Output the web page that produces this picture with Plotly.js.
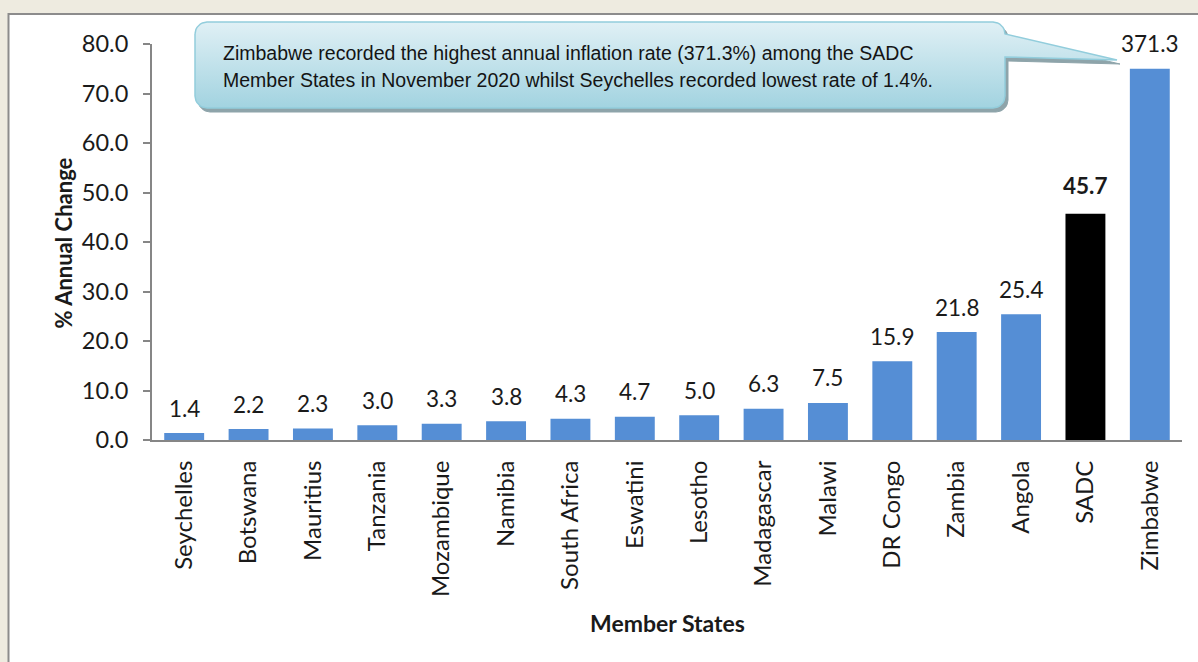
<!DOCTYPE html>
<html>
<head>
<meta charset="utf-8">
<script src="https://cdn.plot.ly/plotly-3.0.1.min.js"></script>
<style>
  html, body { margin: 0; padding: 0; background: #EEEBE0; }
  #chart { width: 1198px; height: 662px; }
</style>
</head>
<body>
<div id="chart"></div>
<script>
// ---- data ----
const categories = ['Seychelles','Botswana','Mauritius','Tanzania','Mozambique','Namibia',
  'South Africa','Eswatini','Lesotho','Madagascar','Malawi','DR Congo','Zambia','Angola','SADC','Zimbabwe'];
const values = [1.4, 2.2, 2.3, 3.0, 3.3, 3.8, 4.3, 4.7, 5.0, 6.3, 7.5, 15.9, 21.8, 25.4, 45.7, 371.3];
const highlightCategory = 'SADC';
const axisCap = 75;              // bars above this are drawn broken at the cap
const yTickValues = [0, 10, 20, 30, 40, 50, 60, 70, 80];
const xTitle = 'Member States';
const yTitle = '% Annual Change';
const calloutLines = [
  'Zimbabwe recorded the highest annual inflation rate (371.3%) among the SADC',
  'Member States in November 2020 whilst Seychelles recorded lowest rate of 1.4%.'
];

// ---- helpers ----
const W = 1198, H = 662;
const px = x => x / W;
const py = y => 1 - y / H;

const plotted = values.map(v => Math.min(v, axisCap));
const barColors = categories.map(c => c === highlightCategory ? '#000000' : '#558ED5');

// rounded callout outline (pixel coords)
function calloutPath(dx, dy) {
  const L = 195 + dx, R = 1005 + dx, T = 22 + dy, B = 108 + dy, r = 12;
  const xs = [], ys = [];
  function arc(cx, cy, a0, a1) {
    const n = 8;
    for (let i = 0; i <= n; i++) {
      const a = a0 + (a1 - a0) * i / n;
      xs.push(cx + r * Math.cos(a)); ys.push(cy + r * Math.sin(a));
    }
  }
  arc(L + r, T + r, Math.PI, 1.5 * Math.PI);      // top-left
  arc(R - r, T + r, 1.5 * Math.PI, 2 * Math.PI);  // top-right
  xs.push(1117 + dx); ys.push(60 + dy);            // tail tip
  xs.push(R); ys.push(57 + dy);
  arc(R - r, B - r, 0, 0.5 * Math.PI);             // bottom-right
  arc(L + r, B - r, 0.5 * Math.PI, Math.PI);       // bottom-left
  xs.push(xs[0]); ys.push(ys[0]);
  return {xs, ys};
}

const shadow = calloutPath(3, 4);
const box = calloutPath(0, 0);

const traces = [
  {
    type: 'bar',
    x: categories,
    y: plotted,
    marker: { color: barColors },
    width: 0.62,
    hoverinfo: 'skip',
    xaxis: 'x', yaxis: 'y'
  },
  {
    type: 'scatter', mode: 'lines',
    x: shadow.xs, y: shadow.ys,
    fill: 'toself', fillcolor: '#8EA4AA',
    line: { color: '#8EA4AA', width: 1 },
    hoverinfo: 'skip',
    xaxis: 'x2', yaxis: 'y2'
  },
  {
    type: 'scatter', mode: 'lines',
    x: box.xs, y: box.ys,
    fill: 'toself', fillcolor: '#C2E3EC',
    fillgradient: { type: 'vertical', colorscale: [[0, '#A2D3E0'], [1, '#E0F0F5']] },
    line: { color: '#92CDDC', width: 1.5 },
    hoverinfo: 'skip',
    xaxis: 'x2', yaxis: 'y2'
  }
];

const annotations = [];
categories.forEach((c, i) => {
  const bold = c === highlightCategory;
  annotations.push({
    x: c, y: plotted[i], xref: 'x', yref: 'y',
    text: bold ? '<b>' + values[i].toFixed(1) + '</b>' : values[i].toFixed(1),
    showarrow: false, xanchor: 'center', yanchor: 'middle', yshift: bold ? 28 : 25,
    font: { family: 'Lato, sans-serif', size: 22.5, color: '#1a1a1a' }
  });
});
calloutLines.forEach((t, i) => {
  annotations.push({
    x: px(221), y: py(53 + i * 27), xref: 'paper', yref: 'paper',
    xanchor: 'left', yanchor: 'middle', showarrow: false, align: 'left',
    text: t,
    font: { family: '"Liberation Sans", Arial, sans-serif', size: 19.5, color: '#141414' }
  });
});
annotations.push({
  x: px(62.5), y: py(243), xref: 'paper', yref: 'paper', showarrow: false,
  xanchor: 'center', yanchor: 'middle',
  text: '<b>' + yTitle + '</b>', textangle: -90,
  font: { family: 'Lato, sans-serif', size: 22, color: '#1a1a1a' }
});
annotations.push({
  x: px(667), y: py(623), xref: 'paper', yref: 'paper', showarrow: false,
  xanchor: 'center', yanchor: 'middle',
  text: '<b>' + xTitle + '</b>',
  font: { family: 'Lato, sans-serif', size: 23, color: '#1a1a1a' }
});

const layout = {
  width: W, height: H,
  margin: { l: 0, r: 0, t: 0, b: 0 },
  paper_bgcolor: '#EEEBE0',
  plot_bgcolor: 'rgba(0,0,0,0)',
  showlegend: false,
  xaxis: {
    domain: [px(152), px(1182)],
    type: 'category',
    categoryorder: 'array', categoryarray: categories,
    showline: true, linecolor: '#868686', linewidth: 2,
    ticks: '', tickangle: -90,
    ticklabelstandoff: 9,
    tickfont: { family: 'Lato, sans-serif', size: 24, color: '#1a1a1a' },
    showgrid: false, zeroline: false, automargin: false, fixedrange: true,
    anchor: 'y'
  },
  yaxis: {
    domain: [py(440), py(44)],
    range: [0, 80],
    tickvals: yTickValues,
    tickformat: '.1f',
    ticks: 'outside', ticklen: 7, tickwidth: 2, tickcolor: '#868686',
    showline: true, linecolor: '#868686', linewidth: 2,
    ticklabelstandoff: 10,
    tickfont: { family: 'Lato, sans-serif', size: 23.5, color: '#1a1a1a' },
    showgrid: false, zeroline: false, automargin: false, fixedrange: true,
    anchor: 'x'
  },
  xaxis2: { domain: [0, 1], range: [0, W], visible: false, fixedrange: true, anchor: 'y2' },
  yaxis2: { domain: [0, 1], range: [H, 0], visible: false, fixedrange: true, anchor: 'x2' },
  shapes: [
    {
      type: 'rect', xref: 'paper', yref: 'paper', layer: 'below',
      x0: px(8.5), x1: 1.05, y0: -0.05, y1: py(14),
      fillcolor: '#FFFFFF', line: { color: '#8C8C8C', width: 2 }
    }
  ],
  annotations: annotations
};

Plotly.newPlot('chart', traces, layout, { displayModeBar: false, staticPlot: true });
</script>
</body>
</html>
